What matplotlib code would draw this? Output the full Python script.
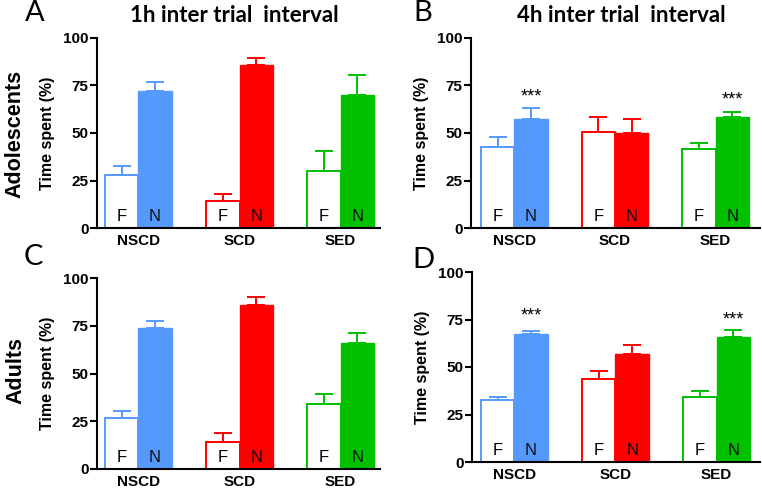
import matplotlib
matplotlib.use("Agg")
import matplotlib.pyplot as plt
import numpy as np

plt.rcParams["font.family"] = ["Liberation Sans", "DejaVu Sans"]

groups = ["NSCD", "SCD", "SED"]
colors = ["#5599FF", "#FF0000", "#00C000"]
yticks = [0, 25, 50, 75, 100]

# mean and upper error (SEM) per panel, F then N per group
a_f = [28, 14, 30]
a_f_err = [4.5, 4, 10.5]
a_n = [72, 86, 70]
a_n_err = [5, 3.5, 10.5]

b_f = [42.5, 50.5, 41.5]
b_f_err = [5.5, 8, 3]
b_n = [57.5, 50, 58.5]
b_n_err = [5.5, 7.5, 2.5]
b_stars = [True, False, True]

c_f = [26.5, 14, 34]
c_f_err = [4, 5, 5.5]
c_n = [74, 86, 66]
c_n_err = [3.5, 4, 5]

d_f = [32.5, 43.5, 34]
d_f_err = [1.5, 4.5, 3.5]
d_n = [67.5, 57, 66]
d_n_err = [1.5, 4.5, 3.5]
d_stars = [True, False, True]

W, H = 762, 488
fig = plt.figure(figsize=(W / 100, H / 100), dpi=100)


def px_axes(left, right, top, bottom):
    return fig.add_axes([left / W, 1 - bottom / H, (right - left) / W, (bottom - top) / H])


def draw_panel(ax, f, f_err, n, n_err, xlim, stars=None, star_y=None):
    x = np.arange(len(groups))
    bw = 0.33
    for i, c in enumerate(colors):
        ax.bar(x[i] - bw / 2, f[i], width=bw, facecolor="white", edgecolor=c,
               linewidth=1.4, zorder=2)
        ax.bar(x[i] + bw / 2, n[i], width=bw, facecolor=c, edgecolor=c,
               linewidth=1.0, zorder=2)
        ax.errorbar(x[i] - bw / 2, f[i], yerr=[[0], [f_err[i]]], fmt="none",
                    ecolor=c, elinewidth=1.4, capsize=6.5, capthick=1.4, zorder=1)
        ax.errorbar(x[i] + bw / 2, n[i], yerr=[[0], [n_err[i]]], fmt="none",
                    ecolor=c, elinewidth=1.4, capsize=6.5, capthick=1.4, zorder=1)
        ax.text(x[i] - bw / 2, 6, "F", ha="center", va="center", fontsize=12, color="black", zorder=3)
        ax.text(x[i] + bw / 2, 6, "N", ha="center", va="center", fontsize=12, color="#111111", zorder=3)
        if stars is not None and stars[i]:
            ax.text(x[i] + bw / 2, star_y[i], "***", ha="center", va="center",
                    fontsize=13, color="black")
    ax.set_xlim(*xlim)
    ax.set_ylim(0, 100)
    ax.set_yticks(yticks)
    ax.set_yticklabels([str(t) for t in yticks], fontweight="bold", fontsize=11)
    ax.set_xticks(x)
    ax.set_xticklabels(groups, fontweight="bold", fontsize=11)
    ax.tick_params(axis="x", length=0, pad=4)
    ax.tick_params(axis="y", length=5, width=1.5, direction="out", pad=1)
    for s in ["top", "right"]:
        ax.spines[s].set_visible(False)
    for s in ["left", "bottom"]:
        ax.spines[s].set_linewidth(1.5)
    ax.set_ylabel("Time spent (%)", fontweight="bold", fontsize=11.5, labelpad=6)


ax_a = px_axes(97, 380, 38, 228)
draw_panel(ax_a, a_f, a_f_err, a_n, a_n_err, (-0.41, 2.39))
ax_b = px_axes(471, 760, 38, 228)
draw_panel(ax_b, b_f, b_f_err, b_n, b_n_err, (-0.43, 2.44), b_stars, [69, 0, 67.5])
ax_c = px_axes(97, 380, 278, 469)
draw_panel(ax_c, c_f, c_f_err, c_n, c_n_err, (-0.41, 2.39))
ax_d = px_axes(472, 760, 272, 462)
draw_panel(ax_d, d_f, d_f_err, d_n, d_n_err, (-0.42, 2.43), d_stars, [77, 0, 75])

# panel letters, titles and row labels
for letter, (lx, ly) in zip("ABCD", [(35, 13), (423, 13), (33, 257), (423, 260)]):
    fig.text(lx / W, 1 - ly / H, letter, fontsize=21, ha="center", va="center",
             family=["Lato", "DejaVu Sans"])
for title, tx in [("1h inter trial  interval", 234), ("4h inter trial  interval", 621)]:
    fig.text(tx / W, 1 - 15 / H, title, fontsize=16, fontweight="bold",
             ha="center", va="center", family=["Lato", "DejaVu Sans"])
fig.text(15 / W, 1 - 134 / H, "Adolescents", fontsize=15.5, fontweight="bold",
         rotation=90, ha="center", va="center")
fig.text(16 / W, 1 - 370 / H, "Adults", fontsize=15.5, fontweight="bold",
         rotation=90, ha="center", va="center")

fig.savefig("out.png", dpi=100)
